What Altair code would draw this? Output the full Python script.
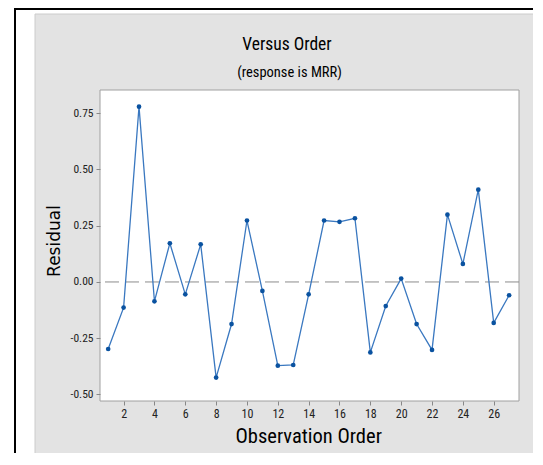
import altair as alt
import pandas as pd

# ---- data ----
order = list(range(1, 28))
residual = [-0.298, -0.114, 0.779, -0.086, 0.172, -0.055, 0.167, -0.425, -0.187, 0.273,
            -0.040, -0.372, -0.369, -0.055, 0.273, 0.267, 0.283, -0.313, -0.107, 0.015,
            -0.187, -0.302, 0.299, 0.080, 0.410, -0.182, -0.059]
x_ticks = list(range(2, 27, 2))
y_ticks = [-0.50, -0.25, 0.00, 0.25, 0.50, 0.75]
title_text = "Versus Order"
subtitle_text = "(response is MRR)"
x_title = "Observation Order"
y_title = "Residual"

df = pd.DataFrame({"order": order, "residual": residual})
one = pd.DataFrame({"k": [0]})

W, H = 419, 311
NARROW = "Liberation Sans Narrow, Roboto Condensed, DejaVu Sans Condensed, Liberation Sans, Arial"

xs = alt.Scale(domain=[0.47, 27.64], nice=False, zero=False)
ys = alt.Scale(domain=[-0.529, 0.853], nice=False, zero=False)

def box(x, x2, y, y2, fill, stroke=None, sw=0):
    kw = dict(fill=fill)
    if stroke:
        kw.update(stroke=stroke, strokeWidth=sw)
    return alt.Chart(one).mark_rect(**kw).encode(
        x=alt.value(x), x2=alt.value(x2), y=alt.value(y), y2=alt.value(y2))

frame_left = box(-86, -84, -82, H + 60, "black")
frame_top = box(-86, W + 20, -82, -80, "black")
panel = box(-65, W + 20, -76, H + 60, "#e3e3e3", "#cccccc", 1)
plot_bg = box(0, W, 0, H, "white", "#a0a0a0", 1)

xaxis = alt.Axis(values=x_ticks, title=None, grid=False, domain=False, zindex=1,
                 labelOverlap=False, labelFlush=False,
                 tickSize=4, tickColor="#888888", labelFont=NARROW, labelFontSize=12,
                 labelColor="#222222", labelPadding=3)
yaxis = alt.Axis(values=y_ticks, title=None, grid=False, domain=False, zindex=1,
                 labelOverlap=False, labelFlush=False,
                 labelExpr="datum.value < 0 ? '-' + format(-datum.value, '.2f') : format(datum.value, '.2f')",
                 tickSize=4, tickColor="#888888", labelFont=NARROW, labelFontSize=11.5,
                 labelColor="#222222", labelPadding=3)

zero = alt.Chart(pd.DataFrame({"y": [0.0]})).mark_rule(
    color="#8c8c8c", strokeWidth=1, strokeDash=[14, 6]
).encode(y=alt.Y("y:Q", scale=ys, axis=yaxis))

line = alt.Chart(df).mark_line(color="#3a78c0", strokeWidth=1.3).encode(
    x=alt.X("order:Q", scale=xs, axis=xaxis),
    y=alt.Y("residual:Q", scale=ys, axis=yaxis),
)
pts = alt.Chart(df).mark_circle(color="#0a52a0", size=22, opacity=1).encode(
    x=alt.X("order:Q", scale=xs, axis=xaxis),
    y=alt.Y("residual:Q", scale=ys, axis=yaxis),
)

def label(txt, x, y, size, font=NARROW, angle=0, weight="normal", baseline="alphabetic"):
    kw = dict(text=txt, font=font, fontSize=size, color="black", align="center",
              baseline=baseline, fontWeight=weight)
    if angle:
        kw["angle"] = angle
    return alt.Chart(one).mark_text(**kw).encode(x=alt.value(x), y=alt.value(y))

t1 = label(title_text, 187, -40, 17.5)
t2 = label(subtitle_text, 189.5, -13, 14.5)
tx = label(x_title, 208.7, 353, 20.5)
ty = label(y_title, -45, 151, 17, font="DejaVu Sans", angle=270, baseline="middle")

chart = alt.layer(
    frame_left, frame_top, panel, plot_bg, zero, line, pts, t1, t2, tx, ty
).properties(
    width=W, height=H,
    autosize=alt.AutoSizeParams(type="none"),
    padding={"left": 92, "top": 82, "right": 14, "bottom": 52},
    background="white",
).configure_view(stroke=None)

chart.save("out.html", embed_options={"renderer": "svg", "actions": False})
